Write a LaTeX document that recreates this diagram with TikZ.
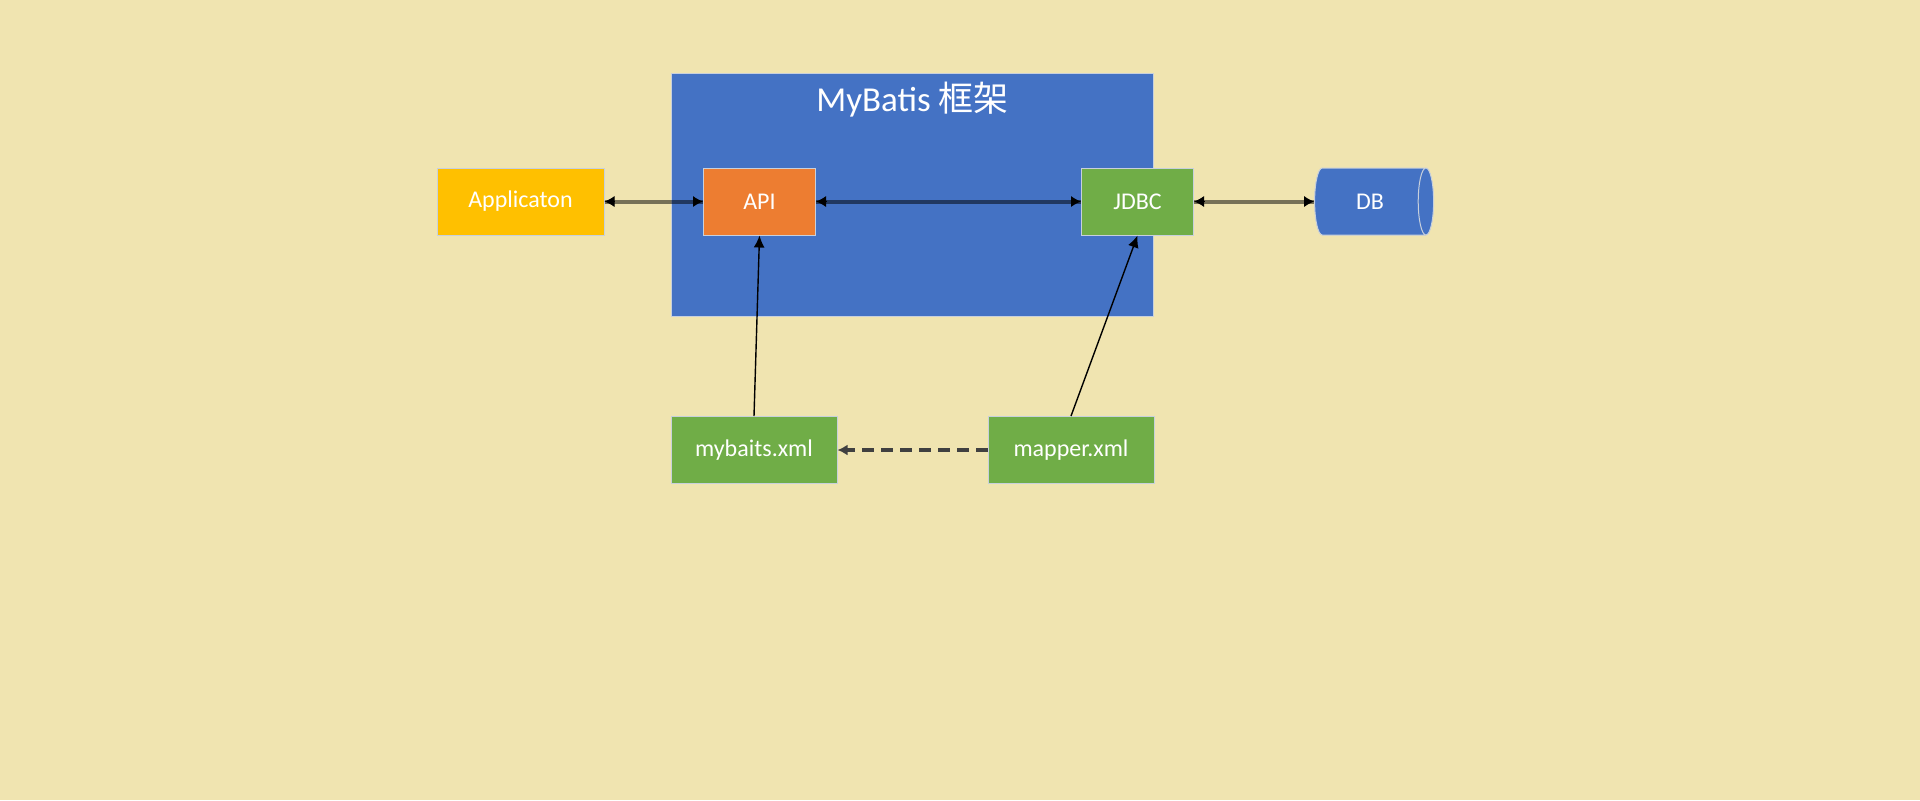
\documentclass[tikz,border=0pt]{standalone}
\usepackage{fontspec}
\setmainfont{Carlito}
\newfontfamily\cjk{Noto Sans CJK SC}
\usetikzlibrary{arrows.meta,shapes.geometric,positioning}
\definecolor{sand}{HTML}{F0E4B0}
\definecolor{blauton}{HTML}{4472C4}
\definecolor{orangeton}{HTML}{ED7D31}
\definecolor{gruenton}{HTML}{70AD47}
\definecolor{gelbton}{HTML}{FFC000}
\definecolor{rand}{HTML}{C8D0DC}

\begin{document}
\begin{tikzpicture}[x=0.5pt,y=-0.5pt,
  kasten/.style={draw=rand,line width=0.5pt,text=white,inner sep=0pt,
    minimum height=33.5pt,font=\fontsize{12}{14}\selectfont},
  verbindung/.style={line width=2pt,draw=black,draw opacity=0.5},
  spitze/.style={line width=0.5pt,-{Latex[length=5pt,width=5.5pt]}},
  pfeil/.style={line width=0.7pt,-{Latex[length=6pt,width=5.5pt]}}]
%Hintergrund, Koordinaten in Pixel (1920x800)
\fill[sand] (0,0) rectangle (1920,800);
%Rahmen des Frameworks
\node[draw=rand,line width=0.5pt,fill=blauton,minimum width=241pt,minimum height=121.7pt] (rahmen) at (912,195) {};
\node[text=white,anchor=base,font=\fontsize{17.5}{20}\selectfont] (titel) at (912.5,111) {MyBatis {\cjk 框架}};
%Kaesten
\node[kasten,fill=gelbton,minimum width=83.5pt] (app) at (520.5,201.5) {Applicaton};
\node[kasten,fill=orangeton,minimum width=56pt] (api) at (759.5,201.5) {API};
\node[kasten,fill=gruenton,minimum width=56pt] (jdbc) at (1137.5,201.5) {JDBC};
\node[kasten,shape=cylinder,aspect=1,fill=blauton,minimum height=59.5pt,minimum width=33.5pt] (db) at (1370,201.5) {DB};
\node[kasten,fill=gruenton,minimum width=83pt] (mybaits) at (754,450) {mybaits.xml};
\node[kasten,fill=gruenton,minimum width=83pt] (mapper) at (1071,450) {mapper.xml};
%Verbindungen: Linie halbtransparent, Spitzen schwarz
\foreach \a/\b in {app/api,api/jdbc,jdbc/db}{
  \draw[verbindung] (\a.east) -- (\b.west);
  \draw[spitze] ([xshift=5pt]\a.east) -- (\a.east);
  \draw[spitze] ([xshift=-5pt]\b.west) -- (\b.west);
}
\draw[pfeil] (mybaits.north) -- (api.south);
\draw[pfeil] (mapper.north) -- (jdbc.south);
\draw[line width=2pt,draw=black!75,dash pattern=on 6pt off 3.5pt,-{Latex[length=5pt,width=5.5pt]}] (mapper.west) -- (mybaits.east);
\end{tikzpicture}
\end{document}
